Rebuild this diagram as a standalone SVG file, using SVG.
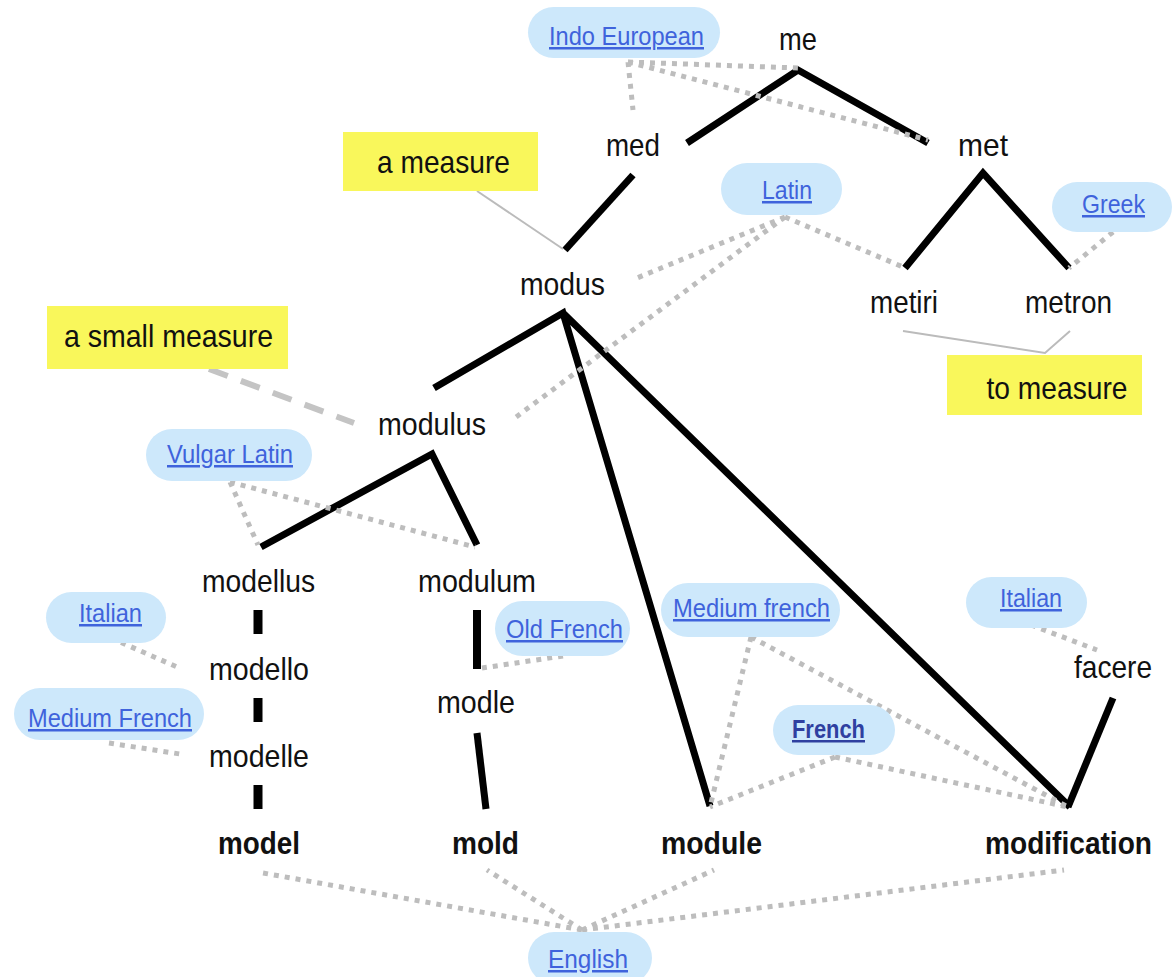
<svg xmlns="http://www.w3.org/2000/svg" width="1172" height="977" viewBox="0 0 1172 977">
<style>
.t{font-family:"Liberation Sans",Arial,sans-serif;font-size:32px;fill:#111;text-anchor:middle}
.b{font-weight:bold}
.l{font-family:"Liberation Sans",Arial,sans-serif;font-size:25px;fill:#3f63dc;text-anchor:middle;text-decoration:underline}
.pill{fill:#cde8fb}
.note{fill:#f9f75b}
.solid{fill:none;stroke:#000;stroke-width:7;stroke-linejoin:miter}
.dot{fill:none;stroke:#bdbdbd;stroke-width:5;stroke-dasharray:5 6}
.thin{fill:none;stroke:#bbb;stroke-width:2}
.dash{fill:none;stroke:#c4c4c4;stroke-width:6;stroke-dasharray:20 14}
</style>
<rect width="1172" height="977" fill="#fff"/>
<g id="connectors">
<path class="solid" d="M687,143 L798,70 L928,143"/>
<path class="solid" d="M633,175 L565,250"/>
<path class="solid" d="M905,268 L983,173 L1069,268"/>
<path class="solid" d="M434,388 L563,313 L710,806 M563,313 L1070,807"/>
<path class="solid" d="M261,547 L432,454 L477,545"/>
<path class="solid" style="stroke-width:9" d="M258,610 V634 M258,698 V722 M258,785 V809"/>
<path class="solid" style="stroke-width:8" d="M477,610 V669"/>
<path class="solid" d="M477,733 L486,809"/>
<path class="solid" d="M1113,698 L1068,807"/>
<path class="thin" d="M477,191 L563,249"/>
<path class="thin" d="M903,331 L1045,353 L1070,331"/>
<path class="dash" d="M209,369 L354,423"/>
<path class="dot" d="M628,62 L798,68 M628,62 L928,140 M628,62 L633,110"/>
<path class="dot" d="M785,217 L637,278 M785,217 L512,420 M785,217 L903,267"/>
<path class="dot" d="M1113,232 L1069,268"/>
<path class="dot" d="M230,482 L258,545 M230,482 L475,547"/>
<path class="dot" d="M111,638 L177,667"/>
<path class="dot" d="M109,743 L180,754"/>
<path class="dot" d="M563,656 L482,668"/>
<path class="dot" d="M751,637 L710,807 M751,637 L1068,807"/>
<path class="dot" d="M835,757 L710,807 M835,757 L1068,807"/>
<path class="dot" d="M1031,625 L1097,650"/>
<path class="dot" d="M582,930 L263,873 M582,930 L487,870 M582,930 L714,870 M582,930 L1064,870"/>
</g>
<g id="indo-european"><rect class="pill" x="528" y="7" width="192" height="51" rx="25.5"/><text class="l" x="626.5" y="45" textLength="155" lengthAdjust="spacingAndGlyphs">Indo European</text></g>
<g id="me"><text class="t" x="798" y="50" textLength="38" lengthAdjust="spacingAndGlyphs">me</text></g>
<g id="med"><text class="t" x="633" y="156" textLength="54" lengthAdjust="spacingAndGlyphs">med</text></g>
<g id="met"><text class="t" x="983" y="156" textLength="50" lengthAdjust="spacingAndGlyphs">met</text></g>
<g id="a-measure"><rect class="note" x="343" y="132" width="195" height="59"/><text class="t" x="443.5" y="173" textLength="133" lengthAdjust="spacingAndGlyphs">a measure</text></g>
<g id="latin"><rect class="pill" x="721" y="163" width="121" height="52" rx="26"/><text class="l" x="787" y="199" textLength="50" lengthAdjust="spacingAndGlyphs">Latin</text></g>
<g id="greek"><rect class="pill" x="1052" y="182" width="120" height="50" rx="25"/><text class="l" x="1113.5" y="213" textLength="63" lengthAdjust="spacingAndGlyphs">Greek</text></g>
<g id="modus"><text class="t" x="562.5" y="295" textLength="85" lengthAdjust="spacingAndGlyphs">modus</text></g>
<g id="metiri"><text class="t" x="904" y="313" textLength="68" lengthAdjust="spacingAndGlyphs">metiri</text></g>
<g id="metron"><text class="t" x="1068.5" y="313" textLength="87" lengthAdjust="spacingAndGlyphs">metron</text></g>
<g id="to-measure"><rect class="note" x="947" y="355" width="195" height="60"/><text class="t" x="1057" y="399" textLength="141" lengthAdjust="spacingAndGlyphs">to measure</text></g>
<g id="a-small-measure"><rect class="note" x="47" y="306" width="241" height="63"/><text class="t" x="168.5" y="347" textLength="209" lengthAdjust="spacingAndGlyphs">a small measure</text></g>
<g id="modulus"><text class="t" x="432" y="435" textLength="108" lengthAdjust="spacingAndGlyphs">modulus</text></g>
<g id="vulgar-latin"><rect class="pill" x="146" y="429" width="166" height="52" rx="26"/><text class="l" x="230" y="463" textLength="126" lengthAdjust="spacingAndGlyphs">Vulgar Latin</text></g>
<g id="modellus"><text class="t" x="258.5" y="592" textLength="113" lengthAdjust="spacingAndGlyphs">modellus</text></g>
<g id="modulum"><text class="t" x="477" y="592" textLength="118" lengthAdjust="spacingAndGlyphs">modulum</text></g>
<g id="italian-1"><rect class="pill" x="46" y="592" width="120" height="51" rx="25.5"/><text class="l" x="110.5" y="622" textLength="63" lengthAdjust="spacingAndGlyphs">Italian</text></g>
<g id="modello"><text class="t" x="259" y="680" textLength="100" lengthAdjust="spacingAndGlyphs">modello</text></g>
<g id="medium-french-1"><rect class="pill" x="14" y="688" width="190" height="52" rx="26"/><text class="l" x="110" y="727" textLength="164" lengthAdjust="spacingAndGlyphs">Medium French</text></g>
<g id="modelle"><text class="t" x="259" y="767" textLength="100" lengthAdjust="spacingAndGlyphs">modelle</text></g>
<g id="old-french"><rect class="pill" x="495" y="601" width="135" height="55" rx="27.5"/><text class="l" x="564.5" y="638" textLength="117" lengthAdjust="spacingAndGlyphs">Old French</text></g>
<g id="modle"><text class="t" x="476" y="713" textLength="78" lengthAdjust="spacingAndGlyphs">modle</text></g>
<g id="medium-french-2"><rect class="pill" x="661" y="583" width="179" height="54" rx="27"/><text class="l" x="751.5" y="617" textLength="157" lengthAdjust="spacingAndGlyphs">Medium french</text></g>
<g id="french"><rect class="pill" x="773" y="705" width="122" height="50" rx="25"/><text class="l" x="828.5" y="738" textLength="73" lengthAdjust="spacingAndGlyphs" style="fill:#2f40a0;font-weight:bold">French</text></g>
<g id="italian-2"><rect class="pill" x="966" y="577" width="121" height="51" rx="25.5"/><text class="l" x="1031" y="607" textLength="62" lengthAdjust="spacingAndGlyphs">Italian</text></g>
<g id="facere"><text class="t" x="1113" y="678" textLength="78" lengthAdjust="spacingAndGlyphs">facere</text></g>
<g id="model"><text class="t b" x="259" y="854" textLength="82" lengthAdjust="spacingAndGlyphs">model</text></g>
<g id="mold"><text class="t b" x="485.5" y="854" textLength="67" lengthAdjust="spacingAndGlyphs">mold</text></g>
<g id="module"><text class="t b" x="711.5" y="854" textLength="101" lengthAdjust="spacingAndGlyphs">module</text></g>
<g id="modification"><text class="t b" x="1068.5" y="854" textLength="167" lengthAdjust="spacingAndGlyphs">modification</text></g>
<g id="english"><rect class="pill" x="528" y="932" width="124" height="52" rx="26"/><text class="l" x="588" y="968" textLength="80" lengthAdjust="spacingAndGlyphs">English</text></g>
</svg>
